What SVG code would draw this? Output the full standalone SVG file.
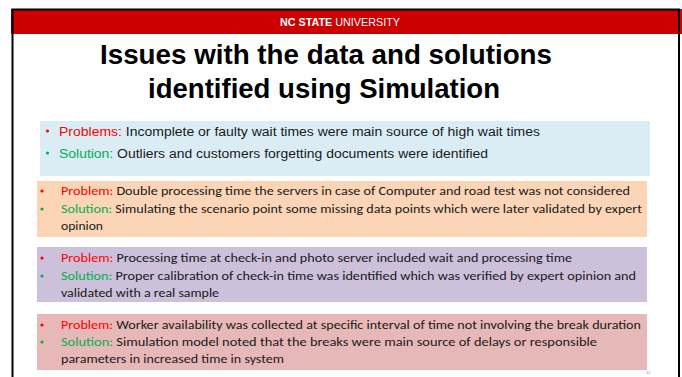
<svg xmlns="http://www.w3.org/2000/svg" width="682" height="377" viewBox="0 0 682 377">
<style>
.hdr{font-family:"Liberation Sans",Arial,sans-serif;font-size:10.5px;fill:#fff;text-anchor:middle}
.title{font-family:"Liberation Sans",Arial,sans-serif;font-size:28px;font-weight:bold;fill:#000;text-anchor:middle}
.a{font-family:"Liberation Sans",Arial,sans-serif;font-size:12px;fill:#1a1a1a}
.c{font-family:Carlito,"Liberation Sans Narrow","Liberation Sans",sans-serif;font-size:12.5px;fill:#1a1a1a}
.r{fill:#ff0000}
.g{fill:#00b050}
</style>
<rect x="0" y="0" width="682" height="377" fill="#fff"/>
<rect x="11" y="9" width="672" height="25" fill="#cc0000"/>
<path d="M12.5 377V9.5H679V377" fill="none" stroke="#000" stroke-width="2"/>
<text class="hdr" x="340" y="25.5" textLength="120" lengthAdjust="spacingAndGlyphs"><tspan font-weight="bold">NC STATE</tspan> UNIVERSITY</text>
<text class="title" x="326" y="64" textLength="452" lengthAdjust="spacingAndGlyphs">Issues with the data and solutions</text>
<text class="title" x="324" y="98" textLength="352" lengthAdjust="spacingAndGlyphs">identified using Simulation</text>

<g id="box1">
<rect x="40" y="121" width="610" height="55" fill="#daedf4"/>
<circle cx="47.5" cy="131" r="1.6" class="r"/>
<text class="a" x="59" y="135.5" textLength="481" lengthAdjust="spacingAndGlyphs"><tspan class="r">Problems:</tspan> Incomplete or faulty wait times were main source of high wait times</text>
<circle cx="47.5" cy="153" r="1.6" class="g"/>
<text class="a" x="59" y="157.5" textLength="429" lengthAdjust="spacingAndGlyphs"><tspan class="g">Solution:</tspan> Outliers and customers forgetting documents were identified</text>
</g>

<g id="box2">
<rect x="37" y="181" width="610" height="56" fill="#fbd5b5"/>
<circle cx="42" cy="191" r="1.6" class="r"/>
<text class="c" x="61" y="195" textLength="569" lengthAdjust="spacingAndGlyphs"><tspan class="r">Problem:</tspan> Double processing time the servers in case of Computer and road test was not considered</text>
<circle cx="42" cy="209" r="1.6" class="g"/>
<text class="c" x="61" y="213" textLength="581" lengthAdjust="spacingAndGlyphs"><tspan class="g">Solution:</tspan> Simulating the scenario point some missing data points which were later validated by expert</text>
<text class="c" x="61" y="230" textLength="42" lengthAdjust="spacingAndGlyphs">opinion</text>
</g>

<g id="box3">
<rect x="37" y="247" width="610" height="55" fill="#ccc0da"/>
<circle cx="42" cy="258" r="1.6" class="r"/>
<text class="c" x="61" y="262" textLength="511" lengthAdjust="spacingAndGlyphs"><tspan class="r">Problem:</tspan> Processing time at check-in and photo server included wait and processing time</text>
<circle cx="42" cy="276" r="1.6" class="g"/>
<text class="c" x="61" y="280" textLength="575" lengthAdjust="spacingAndGlyphs"><tspan class="g">Solution:</tspan> Proper calibration of check-in time was identified which was verified by expert opinion and</text>
<text class="c" x="61" y="297" textLength="158" lengthAdjust="spacingAndGlyphs">validated with a real sample</text>
</g>

<g id="box4">
<rect x="37" y="314" width="610" height="56" fill="#e6b9b8"/>
<circle cx="42" cy="325" r="1.6" class="r"/>
<text class="c" x="61" y="329" textLength="580" lengthAdjust="spacingAndGlyphs"><tspan class="r">Problem:</tspan> Worker availability was collected at specific interval of time not involving the break duration</text>
<circle cx="42" cy="342" r="1.6" class="g"/>
<text class="c" x="61" y="346" textLength="536" lengthAdjust="spacingAndGlyphs"><tspan class="g">Solution:</tspan> Simulation model noted that the breaks were main source of delays or responsible</text>
<text class="c" x="61" y="363" textLength="223" lengthAdjust="spacingAndGlyphs">parameters in increased time in system</text>
</g>
<text x="646" y="374" font-family="Liberation Sans,sans-serif" font-size="4px" fill="#888">12</text>
</svg>
